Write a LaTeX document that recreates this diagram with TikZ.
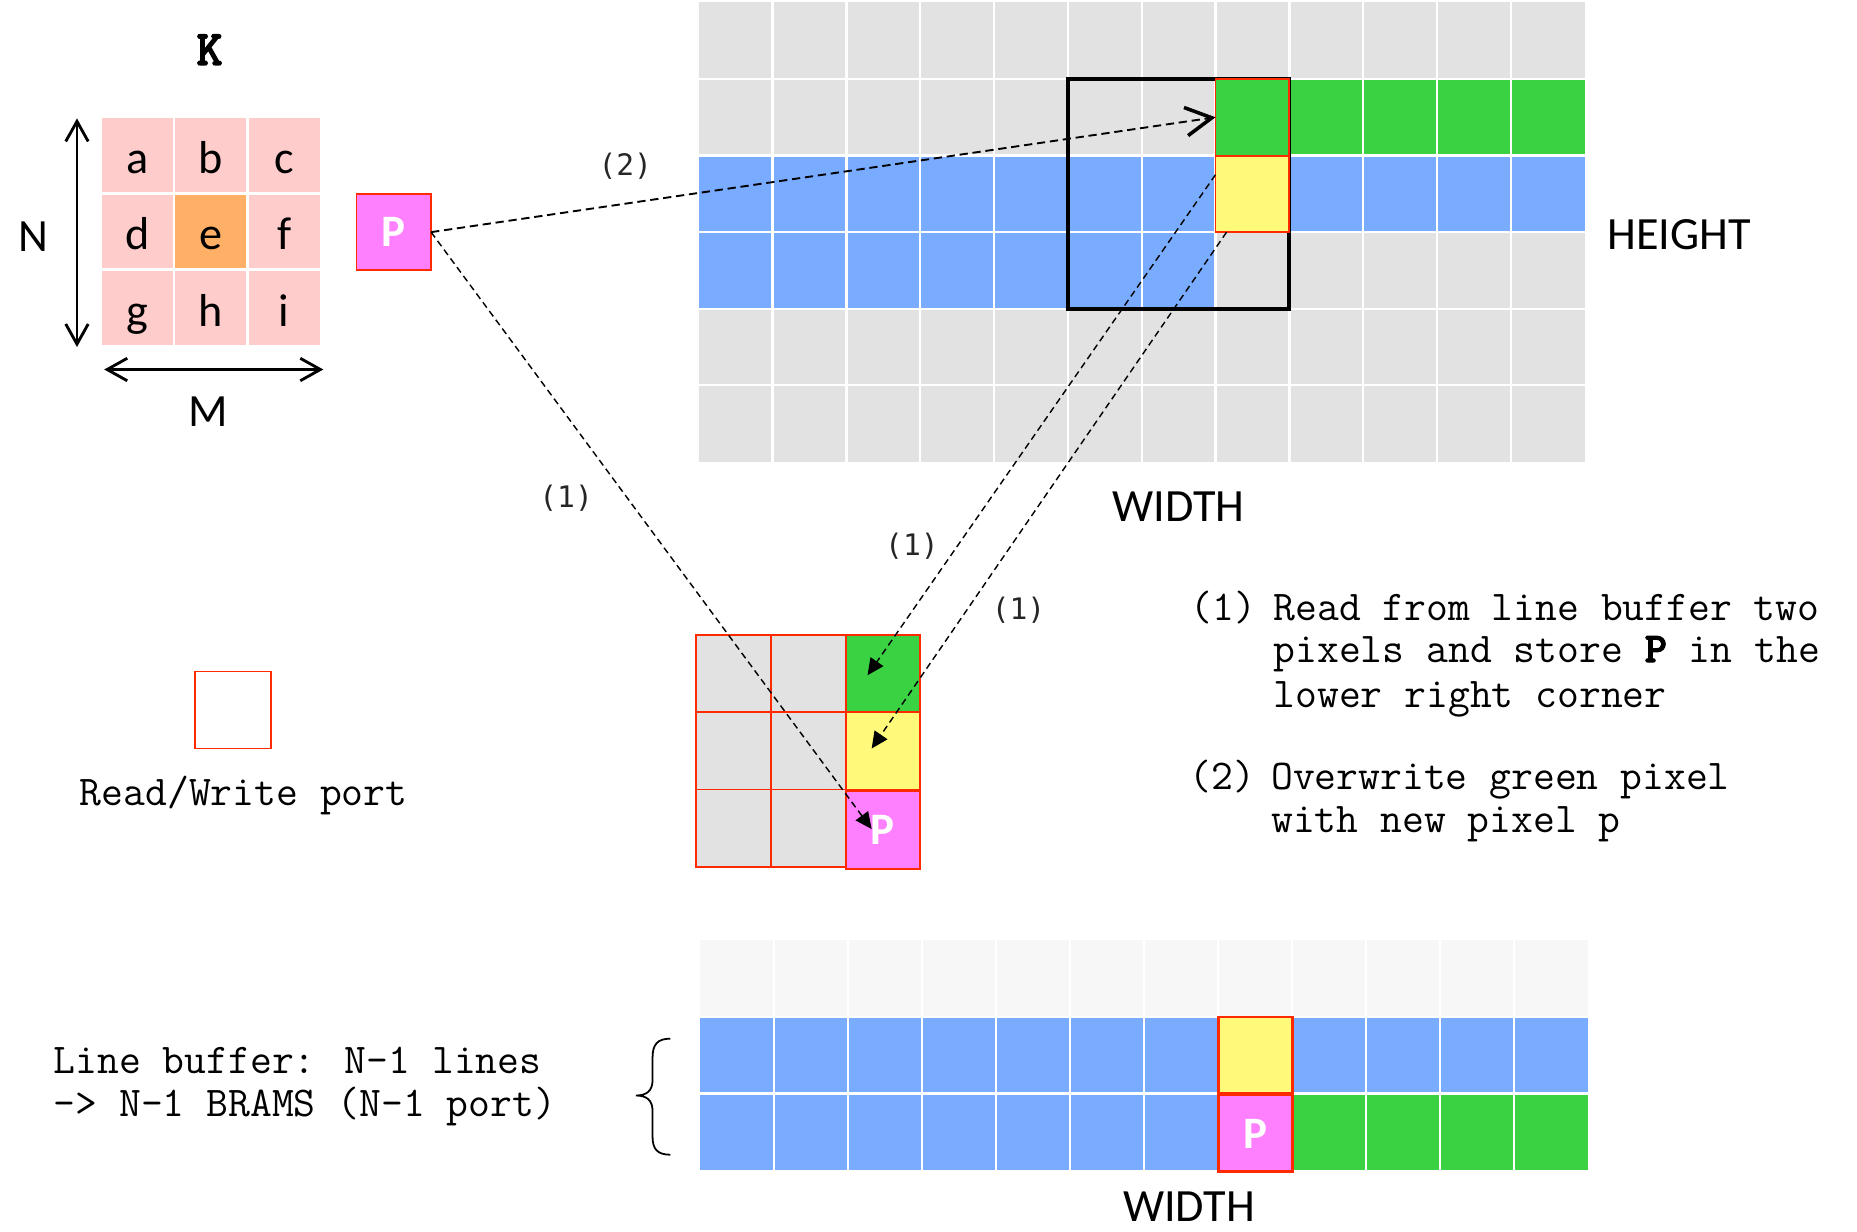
\documentclass[tikz,border=0pt]{standalone}
\usepackage{fontspec}
\setmainfont{Carlito}
\newfontfamily\dmono{DejaVu Sans Mono}
\newfontfamily\ttbold{lmmonolt10-bold}[Extension=.otf,FakeBold=2.5]
\usetikzlibrary{arrows.meta,calc}
\definecolor{gridgray}{HTML}{E2E2E2}
\definecolor{bluec}{HTML}{79ACFF}
\definecolor{greenc}{HTML}{3AD143}
\definecolor{yellowc}{HTML}{FFFA7A}
\definecolor{magc}{HTML}{FF80FF}
\definecolor{pinkc}{HTML}{FFCCCC}
\definecolor{orangec}{HTML}{FFB066}
\definecolor{redb}{HTML}{FF2A00}
\definecolor{lightc}{HTML}{F7F7F7}
\begin{document}
\begin{tikzpicture}[x=0.5pt,y=-0.5pt,
  gridline/.style={white,line width=1pt},
  kcell/.style={fill=pinkc,minimum width=30pt,minimum height=31.2pt,inner sep=0pt,outer sep=0pt,
     text height=15.5pt,text depth=0pt,font=\fontsize{19.5}{22}\selectfont},
  tcell/.style={minimum width=31.17pt,minimum height=32.33pt,inner sep=0pt,outer sep=0pt,draw=redb,line width=0.8pt},
  scell/.style={minimum width=31.5pt,minimum height=32.67pt,inner sep=0pt,outer sep=0pt,draw=redb,line width=0.8pt},
  bcell/.style={minimum width=31.25pt,minimum height=32.33pt,inner sep=0pt,outer sep=0pt,draw=redb,line width=1.1pt},
  ptext/.style={text=white,font=\bfseries\fontsize{19}{21}\selectfont},
  lbl/.style={font=\fontsize{19.5}{22}\selectfont},
  steplbl/.style={font=\dmono\fontsize{12.5}{14}\selectfont,text=black!85},
  mtext/.style={anchor=base west,inner sep=0pt,font=\ttfamily\fontsize{17.9}{20}\selectfont},
  dimarrow/.style={line width=1.2pt,{Straight Barb[length=8.5pt,width=9.5pt]}-{Straight Barb[length=8.5pt,width=9.5pt]}},
  conntwo/.style={dash pattern=on 3.5pt off 2pt,line width=0.8pt,-{Straight Barb[length=11pt,width=12pt,line width=1.5pt]}},
  connone/.style={dash pattern=on 2.8pt off 1.8pt,line width=0.6pt,-{Triangle[length=7pt,width=6.5pt]}}
]
\useasboundingbox (0,0) rectangle (1568,1040);

% ---------- kernel K ----------
\node[font=\ttbold\fontsize{21}{24}\selectfont] (ktitle) at (177,42) {K};
\node[kcell] (ka) at (116,131.2) {a};
\node[kcell] (kb) at (178,131.2) {b};
\node[kcell] (kc) at (240,131.2) {c};
\node[kcell] (kd) at (116,195.5) {d};
\node[kcell,fill=orangec] (ke) at (178,195.5) {e};
\node[kcell] (kf) at (240,195.5) {f};
\node[kcell] (kg) at (116,259.8) {g};
\node[kcell] (kh) at (178,259.8) {h};
\node[kcell] (ki) at (240,259.8) {i};
\coordinate (nt) at (65,100);
\coordinate (nb) at (65,293);
\coordinate (ml) at (88,312);
\coordinate (mr) at (273,312);
\draw[dimarrow] (nt) -- (nb);
\draw[dimarrow] (ml) -- (mr);
\node[lbl] (nlab) at (28,200) {N};
\node[lbl] (mlab) at (176,348) {M};

% ---------- new pixel P ----------
\node[fill=magc,draw=redb,line width=0.8pt,minimum width=31.5pt,minimum height=32pt,inner sep=0pt,outer sep=0pt,ptext] (pl) at (332.5,196) {P};

% ---------- top image grid ----------
\fill[gridgray] (590,2) rectangle (1338,390);
\fill[bluec] (590,131.33) rectangle (1338,196);
\fill[bluec] (590,196) rectangle (1026.33,260.67);
\fill[greenc] (1026.33,66.67) rectangle (1338,131.33);
\foreach \i in {1,...,11} \draw[gridline] ({590+62.333*\i},2) -- ({590+62.333*\i},390);
\foreach \j in {1,...,5} \draw[gridline] (590,{2+64.667*\j}) -- (1338,{2+64.667*\j});
\draw[line width=1.8pt] (901.67,66.67) rectangle (1088.67,260.67);
\node[tcell,fill=greenc] (tg) at (1057.5,99) {};
\node[tcell,fill=yellowc] (ty) at (1057.5,163.67) {};
\node[lbl] (height) at (1418,198) {HEIGHT};
\node[lbl] (width1) at (995,428) {WIDTH};

% ---------- small window ----------
\node[scell,fill=gridgray] (s00) at (619.5,568.67) {};
\node[scell,fill=gridgray] (s01) at (682.5,568.67) {};
\node[scell,fill=gridgray] (s10) at (619.5,634) {};
\node[scell,fill=gridgray] (s11) at (682.5,634) {};
\node[scell,fill=gridgray] (s20) at (619.5,699.33) {};
\node[scell,fill=gridgray] (s21) at (682.5,699.33) {};
\node[scell,fill=greenc] (sg) at (745.5,568.67) {};
\node[scell,fill=yellowc] (sy) at (745.5,634) {};
\node[scell,fill=magc,ptext] (sp) at (745.5,701) {P};

% ---------- legend ----------
\node[draw=redb,line width=0.8pt,minimum width=32pt,minimum height=32.5pt,inner sep=0pt] (port) at (197,599.5) {};
\node[mtext] (porttxt) at (67,680) {Read/Write port};

% ---------- explanation ----------
\node[mtext] (e1a) at (1005,523.5) {(1)};
\node[mtext] (e1b) at (1075,523.5) {Read from line buffer two};
\node[mtext] (e1c) at (1075,559) {pixels and store {\ttbold P} in the};
\node[mtext] (e1d) at (1075,597) {lower right corner};
\node[mtext] (e2a) at (1004,667) {(2)};
\node[mtext] (e2b) at (1073,667) {Overwrite green pixel};
\node[mtext] (e2c) at (1073,703) {with new pixel p};

% ---------- line buffer ----------
\fill[lightc] (591,794) rectangle (1341,858.67);
\fill[bluec] (591,858.67) rectangle (1341,988);
\fill[greenc] (1091,923.33) rectangle (1341,988);
\foreach \i in {1,...,11} \draw[gridline] ({591+62.5*\i},794) -- ({591+62.5*\i},988);
\foreach \j in {1,2} \draw[gridline] (591,{794+64.667*\j}) -- (1341,{794+64.667*\j});
\node[bcell,fill=yellowc] (by) at (1060,891) {};
\node[bcell,fill=magc,ptext] (bp) at (1060,957) {P};
\node[lbl,inner sep=0pt] (width2) at (1004,1019) {WIDTH};
\draw[line width=0.75pt] (566,877) .. controls (555,877) and (551,882) .. (551,893)
  -- (551,912) .. controls (551,921) and (546,925) .. (537,925)
  .. controls (546,925) and (551,929) .. (551,938)
  -- (551,960) .. controls (551,970) and (555,975) .. (566,975);
\node[mtext] (lb1) at (45,906) {Line buffer: N-1 lines};
\node[mtext] (lb2) at (45,943) {-> N-1 BRAMS (N-1 port)};

% ---------- connectors ----------
\draw[conntwo] (pl.east) -- (tg.west);
\draw[connone] (pl.east) -- ($(sp.center)+(-9.5,-1)$);
\draw[connone] ($(ty.north west)!0.25!(ty.south west)$) -- ($(sg.center)+(-13,1.5)$);
\draw[connone] ($(ty.south west)!0.15!(ty.south east)$) -- ($(sy.center)+(-9.5,-2)$);
\node[steplbl] (l2) at (528,140) {(2)};
\node[steplbl] (l1a) at (478,421) {(1)};
\node[steplbl] (l1b) at (770,461) {(1)};
\node[steplbl] (l1c) at (860,515) {(1)};
\end{tikzpicture}
\end{document}
